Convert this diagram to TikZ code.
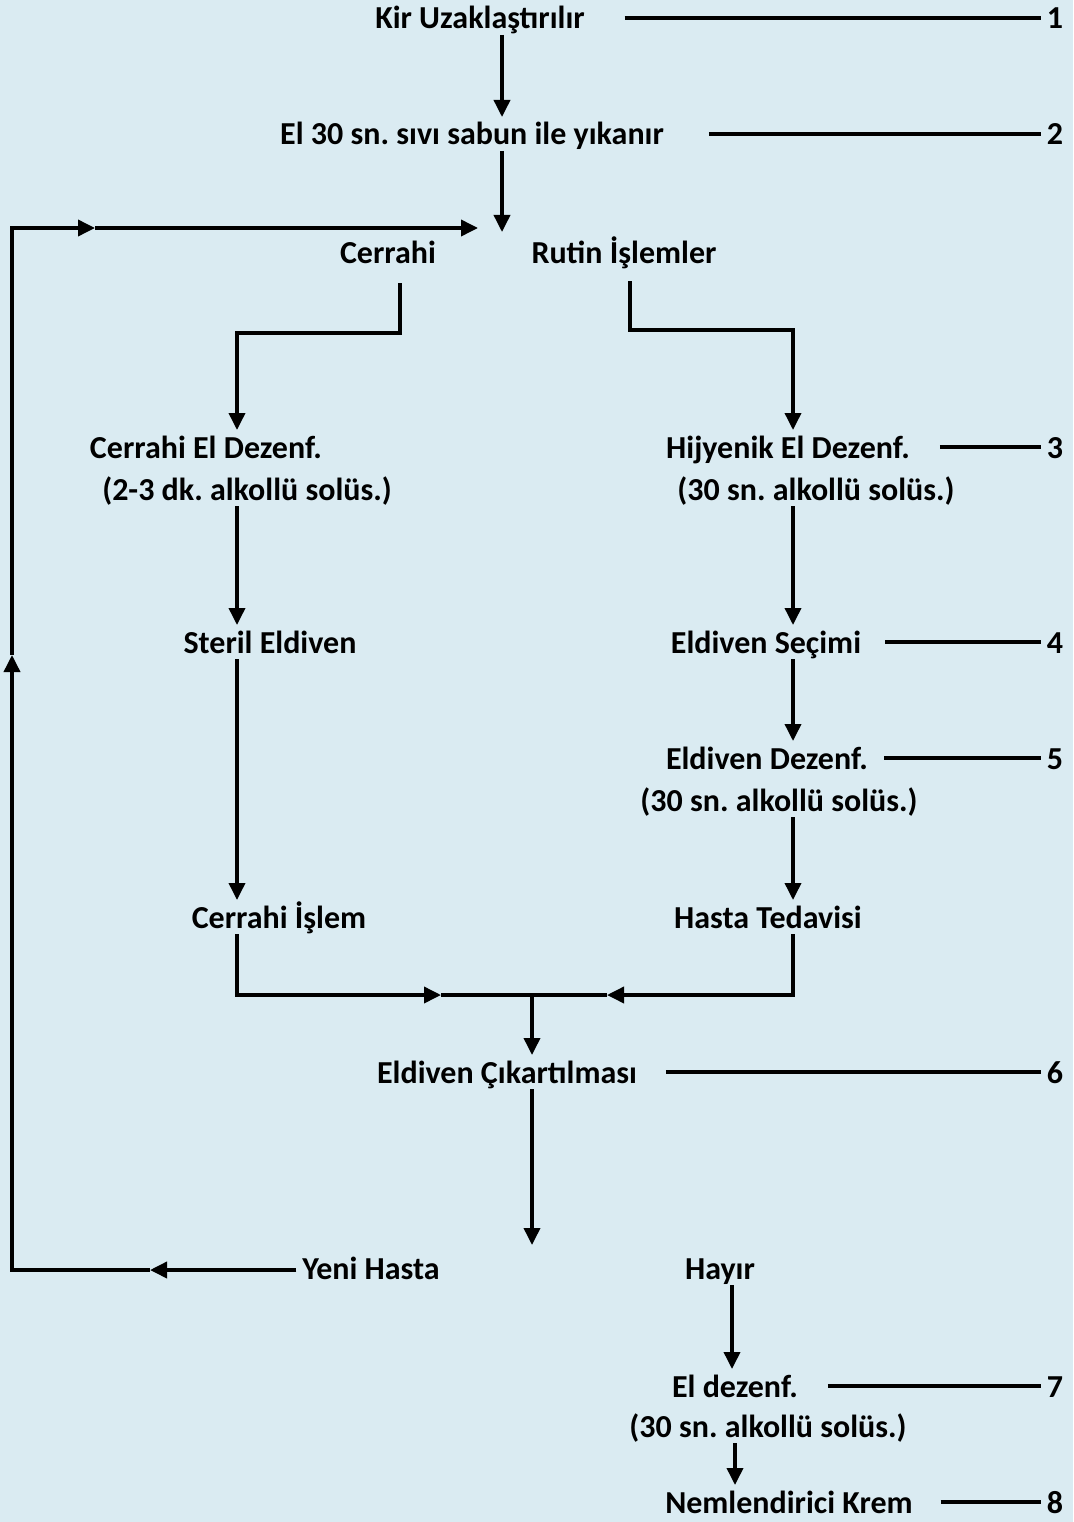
\documentclass[tikz,border=0pt]{standalone}
\usepackage{fontspec}
\setmainfont{Carlito}
\usetikzlibrary{arrows.meta}
\definecolor{bgblue}{RGB}{218,235,242}
\frenchspacing
\begin{document}
\begin{tikzpicture}[x=1pt,y=-1pt,
  txt/.style={inner sep=0pt,outer sep=6pt,text height=22pt,text depth=0pt,anchor=base,font=\fontsize{32}{38}\selectfont\bfseries},
  con/.style={line width=3.6pt},
  arr/.style={con,-{Triangle[length=17pt,width=16pt]}}]
\fill[bgblue] (0,0) rectangle (1073,1522);
\useasboundingbox (0,0) rectangle (1073,1522);
% axes
\coordinate (xa) at (502,0);
\coordinate (xcer) at (400,0);
\coordinate (xrut) at (630,0);
\coordinate (xl) at (237,0);
\coordinate (xr) at (793,0);
\coordinate (xh) at (732,0);
\coordinate (xn) at (735,0);
% texts
\node[txt] (kir) at (480,29) {Kir Uzaklaştırılır};
\node[txt] (el30) at (472,145) {El 30 sn. sıvı sabun ile yıkanır};
\node[txt] (cer) at (388,263) {Cerrahi};
\node[txt] (rut) at (624,263) {Rutin İşlemler};
\node[txt] (ced1) at (206,458) {Cerrahi El Dezenf.};
\node[txt] (ced2) at (247,500) {(2-3 dk. alkollü solüs.)};
\node[txt] (hyj1) at (788,458) {Hijyenik El Dezenf.};
\node[txt] (hyj2) at (816,500) {(30 sn. alkollü solüs.)};
\node[txt] (ster) at (270,653) {Steril Eldiven};
\node[txt] (esec) at (766,653) {Eldiven Seçimi};
\node[txt] (edez1) at (767,769) {Eldiven Dezenf.};
\node[txt] (edez2) at (779,811) {(30 sn. alkollü solüs.)};
\node[txt] (cisl) at (279,928) {Cerrahi İşlem};
\node[txt] (hted) at (768,928) {Hasta Tedavisi};
\node[txt] (ecik) at (507,1083) {Eldiven Çıkartılması};
\node[txt] (yeni) at (371,1279) {Yeni Hasta};
\node[txt] (hay) at (720,1279) {Hayır};
\node[txt] (eld1) at (735,1397) {El dezenf.};
\node[txt] (eld2) at (768,1437) {(30 sn. alkollü solüs.)};
\node[txt] (nem) at (789,1513) {Nemlendirici Krem};
% numbers
\node[txt] (n1) at (1055,29) {1};
\node[txt] (n2) at (1055,145) {2};
\node[txt] (n3) at (1055,458) {3};
\node[txt] (n4) at (1055,653) {4};
\node[txt] (n5) at (1055,769) {5};
\node[txt] (n6) at (1055,1083) {6};
\node[txt] (n7) at (1055,1397) {7};
\node[txt] (n8) at (1055,1513) {8};
% number lines
\draw[con] ([xshift=34pt]kir.east) -- (n1.west);
\draw[con] ([xshift=39pt]el30.east) -- (n2.west);
\draw[con] ([xshift=24pt]hyj1.east) -- (n3.west);
\draw[con] ([xshift=18pt]esec.east) -- (n4.west);
\draw[con] ([xshift=10pt]edez1.east) -- (n5.west);
\draw[con] ([xshift=23pt]ecik.east) -- (n6.west);
\draw[con] ([xshift=24pt]eld1.east) -- (n7.west);
\draw[con] ([xshift=22pt]nem.east) -- (n8.west);
% free ends and mid points
\coordinate (split) at (502,232);
\coordinate (j) at (532,995);
\coordinate (m1) at (441,995);
\coordinate (m2) at (607,995);
\coordinate (e2) at (532,1245);
\coordinate (m3) at (150,1270);
\coordinate (bl) at (12,1270);
\coordinate (m4) at (12,655);
\coordinate (tl) at (12,228);
\coordinate (m5) at (95,228);
\coordinate (fe) at (478,228);
% connectors
\draw[arr] (kir.south -| xa) -- (el30.north -| xa);
\draw[arr] (el30.south -| xa) -- (split);
\draw[arr] ([yshift=-14pt]cer.south -| xcer) -- ++(0,50) -| (ced1.north -| xl);
\draw[arr] ([yshift=-12pt]rut.south -| xrut) -- ++(0,49) -| (hyj1.north -| xr);
\draw[arr] (ced2.south -| xl) -- (ster.north -| xl);
\draw[arr] (hyj2.south -| xr) -- (esec.north -| xr);
\draw[arr] (ster.south -| xl) -- (cisl.north -| xl);
\draw[arr] (esec.south -| xr) -- (edez1.north -| xr);
\draw[arr] (edez2.south -| xr) -- (hted.north -| xr);
\draw[arr] (cisl.south -| xl) |- (m1);
\draw[con] (m1) -- (j);
\draw[arr] (hted.south -| xr) |- (m2);
\draw[con] (m2) -- (j);
\draw[arr] (j) -- (ecik.north -| j);
\draw[arr] (ecik.south -| j) -- (e2);
\draw[arr] (yeni.west |- m3) -- (m3);
\draw[arr,line join=miter] (m3) -- (bl) -- (m4);
\draw[arr,line join=miter] (m4) -- (tl) -- (m5);
\draw[arr] (m5) -- (fe);
\draw[arr] (hay.south -| xh) -- (eld1.north -| xh);
\draw[arr] (eld2.south -| xn) -- (nem.north -| xn);
\end{tikzpicture}
\end{document}
